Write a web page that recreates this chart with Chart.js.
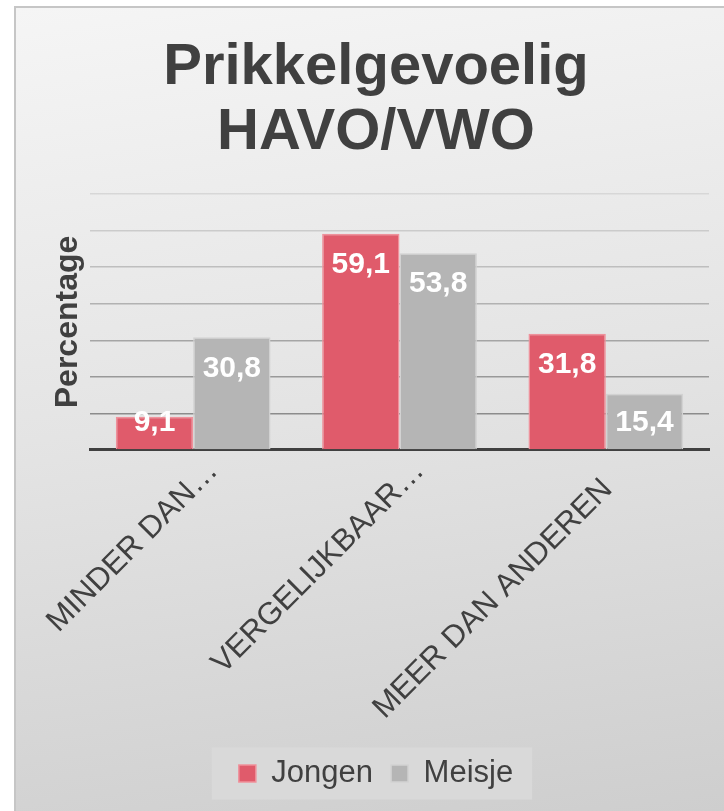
<!DOCTYPE html>
<html>
<head>
<meta charset="utf-8">
<title>Prikkelgevoelig HAVO/VWO</title>
<script src="https://cdn.jsdelivr.net/npm/chart.js@4.4.1/dist/chart.umd.min.js"></script>
<style>
  html, body { margin: 0; padding: 0; background: #ffffff; overflow: hidden; }
  #frame {
    position: absolute; left: 14px; top: 6px; width: 760px; height: 860px;
    border-left: 2px solid #c6c6c6; border-top: 2px solid #c6c6c6;
    background: linear-gradient(172deg, #f5f5f5 0%, #e4e4e4 45%, #cbcbcb 100%);
  }
  #chart { position: absolute; left: 0; top: 0; }
</style>
</head>
<body>
<div id="frame"></div>
<canvas id="chart" width="724" height="811"></canvas>
<script>
const categories = ["MINDER DAN\u2026", "VERGELIJKBAAR\u2026", "MEER DAN ANDEREN"];
const jongen = [9.1, 59.1, 31.8];
const meisje = [30.8, 53.8, 15.4];
const yTicks = [0, 10, 20, 30, 40, 50, 60, 70];

const FONT = "'Liberation Sans', Arial, sans-serif";
const TEXT = "#404040";

function formatValue(v) {
  return v.toFixed(1).replace(".", ",");
}

// grid lines get a bit darker towards the axis, like the original
function gridColor(ctx) {
  const v = ctx.tick.value;
  if (v === 0) return "rgba(0,0,0,0)";
  const shade = Math.round(215 - (70 - v) * 1.25);
  return "rgb(" + shade + "," + shade + "," + shade + ")";
}

// Excel puts the cut-off labels a bit further along than the full one
function tickLabel(value) {
  const label = this.getLabelForValue(value);
  return label.endsWith("\u2026") ? label : label + "   ";
}

const valueLabels = {
  id: "valueLabels",
  afterDatasetsDraw(chart) {
    const ctx = chart.ctx;
    const base = chart.scales.y.getPixelForValue(0);
    ctx.save();
    ctx.font = "bold 30px " + FONT;
    ctx.fillStyle = "#ffffff";
    ctx.textAlign = "center";
    ctx.textBaseline = "middle";
    chart.data.datasets.forEach((ds, i) => {
      chart.getDatasetMeta(i).data.forEach((bar, j) => {
        const y = Math.min(bar.y + 31, base - 27);
        ctx.fillText(formatValue(ds.data[j]), bar.x, y);
      });
    });
    ctx.restore();
  }
};

const legendBox = {
  id: "legendBox",
  beforeDraw(chart) {
    const boxes = chart.legend.legendHitBoxes;
    if (!boxes || !boxes.length) return;
    const first = boxes[0];
    const last = boxes[boxes.length - 1];
    const cy = first.top + first.height / 2;
    const ctx = chart.ctx;
    ctx.save();
    ctx.fillStyle = "#d9d9d9";
    ctx.fillRect(first.left - 27, cy - 26, last.left + last.width - first.left + 46, 52);
    ctx.restore();
  }
};

new Chart(document.getElementById("chart").getContext("2d"), {
  type: "bar",
  data: {
    labels: categories,
    datasets: [
      {
        label: "Jongen",
        data: jongen,
        backgroundColor: "#e05b6b",
        borderColor: "#ef919b",
        borderWidth: 1.5,
        categoryPercentage: 0.75,
        barPercentage: 1.0
      },
      {
        label: "Meisje",
        data: meisje,
        backgroundColor: "#b5b5b5",
        borderColor: "#d2d2d2",
        borderWidth: 1.5,
        categoryPercentage: 0.75,
        barPercentage: 1.0
      }
    ]
  },
  options: {
    responsive: false,
    animation: false,
    layout: { padding: { left: 28, right: 0, top: 36, bottom: 12 } },
    plugins: {
      title: {
        display: true,
        text: ["Prikkelgevoelig", "HAVO/VWO"],
        color: TEXT,
        font: { family: FONT, size: 58, weight: "bold", lineHeight: 1.12 },
        padding: { top: 0, bottom: 28 }
      },
      legend: {
        position: "bottom",
        labels: {
          color: TEXT,
          font: { family: FONT, size: 31 },
          boxWidth: 17,
          boxHeight: 17,
          padding: 18
        }
      },
      tooltip: { enabled: false }
    },
    scales: {
      x: {
        grid: { display: false },
        border: { color: TEXT, width: 3 },
        ticks: {
          color: TEXT,
          font: { family: FONT, size: 31 },
          minRotation: 45,
          maxRotation: 45,
          autoSkip: false,
          labelOffset: 20,
          padding: -5,
          callback: tickLabel
        },
        afterFit(scale) {
          scale.height = 290;
          scale.paddingLeft = 0;
          scale.paddingRight = 0;
        }
      },
      y: {
        min: yTicks[0],
        max: yTicks[yTicks.length - 1],
        afterBuildTicks(scale) {
          scale.ticks = yTicks.map(v => ({ value: v }));
        },
        ticks: { display: false },
        grid: { color: gridColor, lineWidth: 1.5, drawTicks: false },
        border: { display: false },
        title: {
          display: true,
          text: "Percentage",
          color: TEXT,
          font: { family: FONT, size: 32, weight: "bold" },
          padding: { top: 21, bottom: 0 }
        },
        afterFit(scale) {
          scale.width = 62;
        }
      },
      y2: {
        position: "right",
        grid: { display: false },
        border: { display: false },
        ticks: { display: false },
        afterFit(scale) {
          scale.width = 15;
        }
      }
    }
  },
  plugins: [valueLabels, legendBox]
});
</script>
</body>
</html>
